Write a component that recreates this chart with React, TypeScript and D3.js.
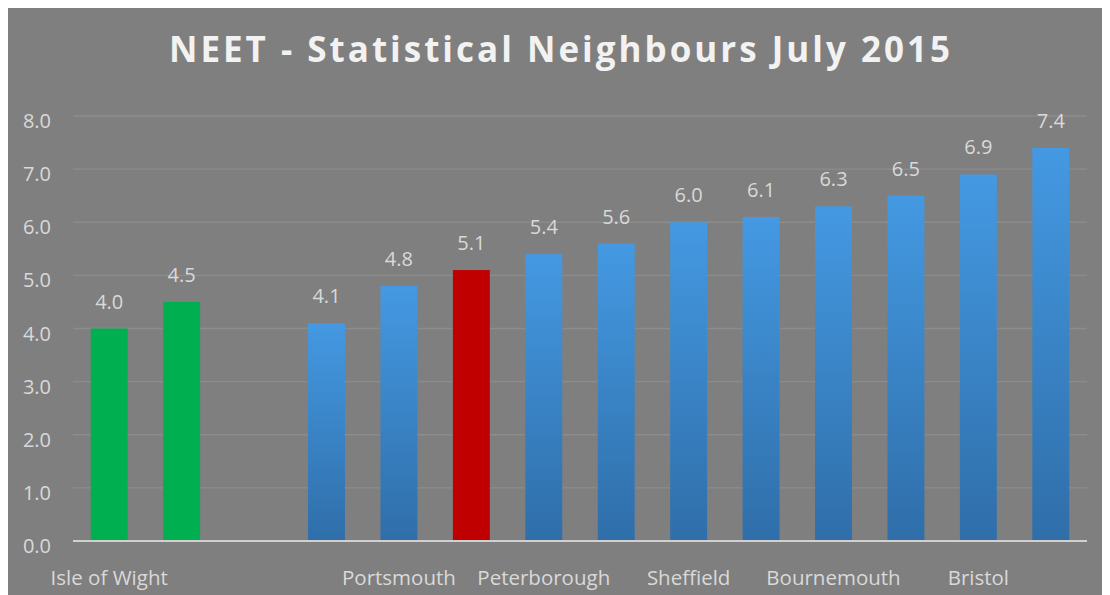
import React, { useEffect, useRef } from "react";
import * as d3 from "d3";

// chart data
const categories = [
	"Isle of Wight", "", "", "", "Portsmouth", "", "Peterborough", "",
	"Sheffield", "", "Bournemouth", "", "Bristol", "",
];
const values: (number | null)[] = [4.0, 4.5, null, 4.1, 4.8, 5.1, 5.4, 5.6, 6.0, 6.1, 6.3, 6.5, 6.9, 7.4];
const barKinds = ["green", "green", "none", "blue", "blue", "red", "blue", "blue", "blue", "blue", "blue", "blue", "blue", "blue"];
const yTicks = [0, 1, 2, 3, 4, 5, 6, 7, 8];
const title = "NEET - Statistical Neighbours July 2015";

const W = 1102;
const H = 591;
// offsets so coords below match the page picture
const OX = 8;
const OY = 6;

export default function App() {
	const svgRef = useRef<SVGSVGElement | null>(null);

	useEffect(() => {
		if (!svgRef.current) return;
		const svg = d3.select(svgRef.current);
		svg.selectAll("*").remove();

		const margin = { left: 73 - OX, right: W - (1087 - OX), top: 116 - OY, bottom: H - (541 - OY) };

		const x = d3
			.scaleBand<number>()
			.domain(categories.map((_, i) => i))
			.range([margin.left, W - margin.right])
			.paddingInner(0.49)
			.paddingOuter(0.245);
		const y = d3.scaleLinear().domain([0, 8]).range([H - margin.bottom, margin.top]);

		const font = "'Open Sans', sans-serif";

		svg.append("rect").attr("width", W).attr("height", H).attr("fill", "#7f7f7f");

		const defs = svg.append("defs");
		const grad = defs
			.append("linearGradient")
			.attr("id", "blueGrad")
			.attr("x1", 0)
			.attr("y1", 0)
			.attr("x2", 0)
			.attr("y2", 1);
		grad.append("stop").attr("offset", "0%").attr("stop-color", "#4499e2");
		grad.append("stop").attr("offset", "100%").attr("stop-color", "#2f6ea9");

		// title
		svg
			.append("text")
			.attr("x", 561 - OX)
			.attr("y", 62 - OY)
			.attr("text-anchor", "middle")
			.attr("font-family", font)
			.attr("font-weight", "bold")
			.attr("font-size", 35)
			.attr("letter-spacing", 3)
			.attr("fill", "#f2f2f2")
			.text(title);

		// gridlines
		svg
			.append("g")
			.selectAll("line")
			.data(yTicks.slice(1))
			.enter()
			.append("line")
			.attr("x1", margin.left)
			.attr("x2", W - margin.right)
			.attr("y1", (d) => y(d))
			.attr("y2", (d) => y(d))
			.attr("stroke", "#8c8c8c")
			.attr("stroke-width", 1.3);

		// y tick labels
		svg
			.append("g")
			.selectAll("text")
			.data(yTicks)
			.enter()
			.append("text")
			.attr("x", 51 - OX)
			.attr("y", (d) => y(d) + 12)
			.attr("text-anchor", "end")
			.attr("font-family", font)
			.attr("font-size", 20)
			.attr("fill", "#d9d9d9")
			.text((d) => d3.format(".1f")(d));

		const colorOf = (k: string) => (k === "green" ? "#00b050" : k === "red" ? "#c00000" : "url(#blueGrad)");

		const barData = values
			.map((v, i) => ({ i, v, kind: barKinds[i] }))
			.filter((d) => d.v != null) as { i: number; v: number; kind: string }[];

		svg
			.append("g")
			.selectAll("rect")
			.data(barData)
			.enter()
			.append("rect")
			.attr("x", (d) => x(d.i)!)
			.attr("width", x.bandwidth())
			.attr("y", (d) => y(d.v))
			.attr("height", (d) => y(0) - y(d.v))
			.attr("fill", (d) => colorOf(d.kind));

		// data labels
		svg
			.append("g")
			.selectAll("text")
			.data(barData)
			.enter()
			.append("text")
			.attr("x", (d) => x(d.i)! + x.bandwidth() / 2)
			.attr("y", (d) => y(d.v) - 20)
			.attr("text-anchor", "middle")
			.attr("font-family", font)
			.attr("font-size", 20)
			.attr("fill", "#d9d9d9")
			.text((d) => d3.format(".1f")(d.v));

		// baseline
		svg
			.append("line")
			.attr("x1", margin.left)
			.attr("x2", W - margin.right)
			.attr("y1", y(0))
			.attr("y2", y(0))
			.attr("stroke", "#d0d0d0")
			.attr("stroke-width", 2);

		// category labels (Excel skips every other one)
		svg
			.append("g")
			.selectAll("text")
			.data(categories.map((c, i) => ({ c, i })).filter((d) => d.c))
			.enter()
			.append("text")
			.attr("x", (d) => x(d.i)! + x.bandwidth() / 2)
			.attr("y", 585 - OY)
			.attr("text-anchor", "middle")
			.attr("font-family", font)
			.attr("font-size", 20.5)
			.attr("fill", "#d9d9d9")
			.text((d) => d.c);
	}, []);

	return <svg ref={svgRef} width={W} height={H} style={{ display: "block", marginTop: -2 }} />;
}
